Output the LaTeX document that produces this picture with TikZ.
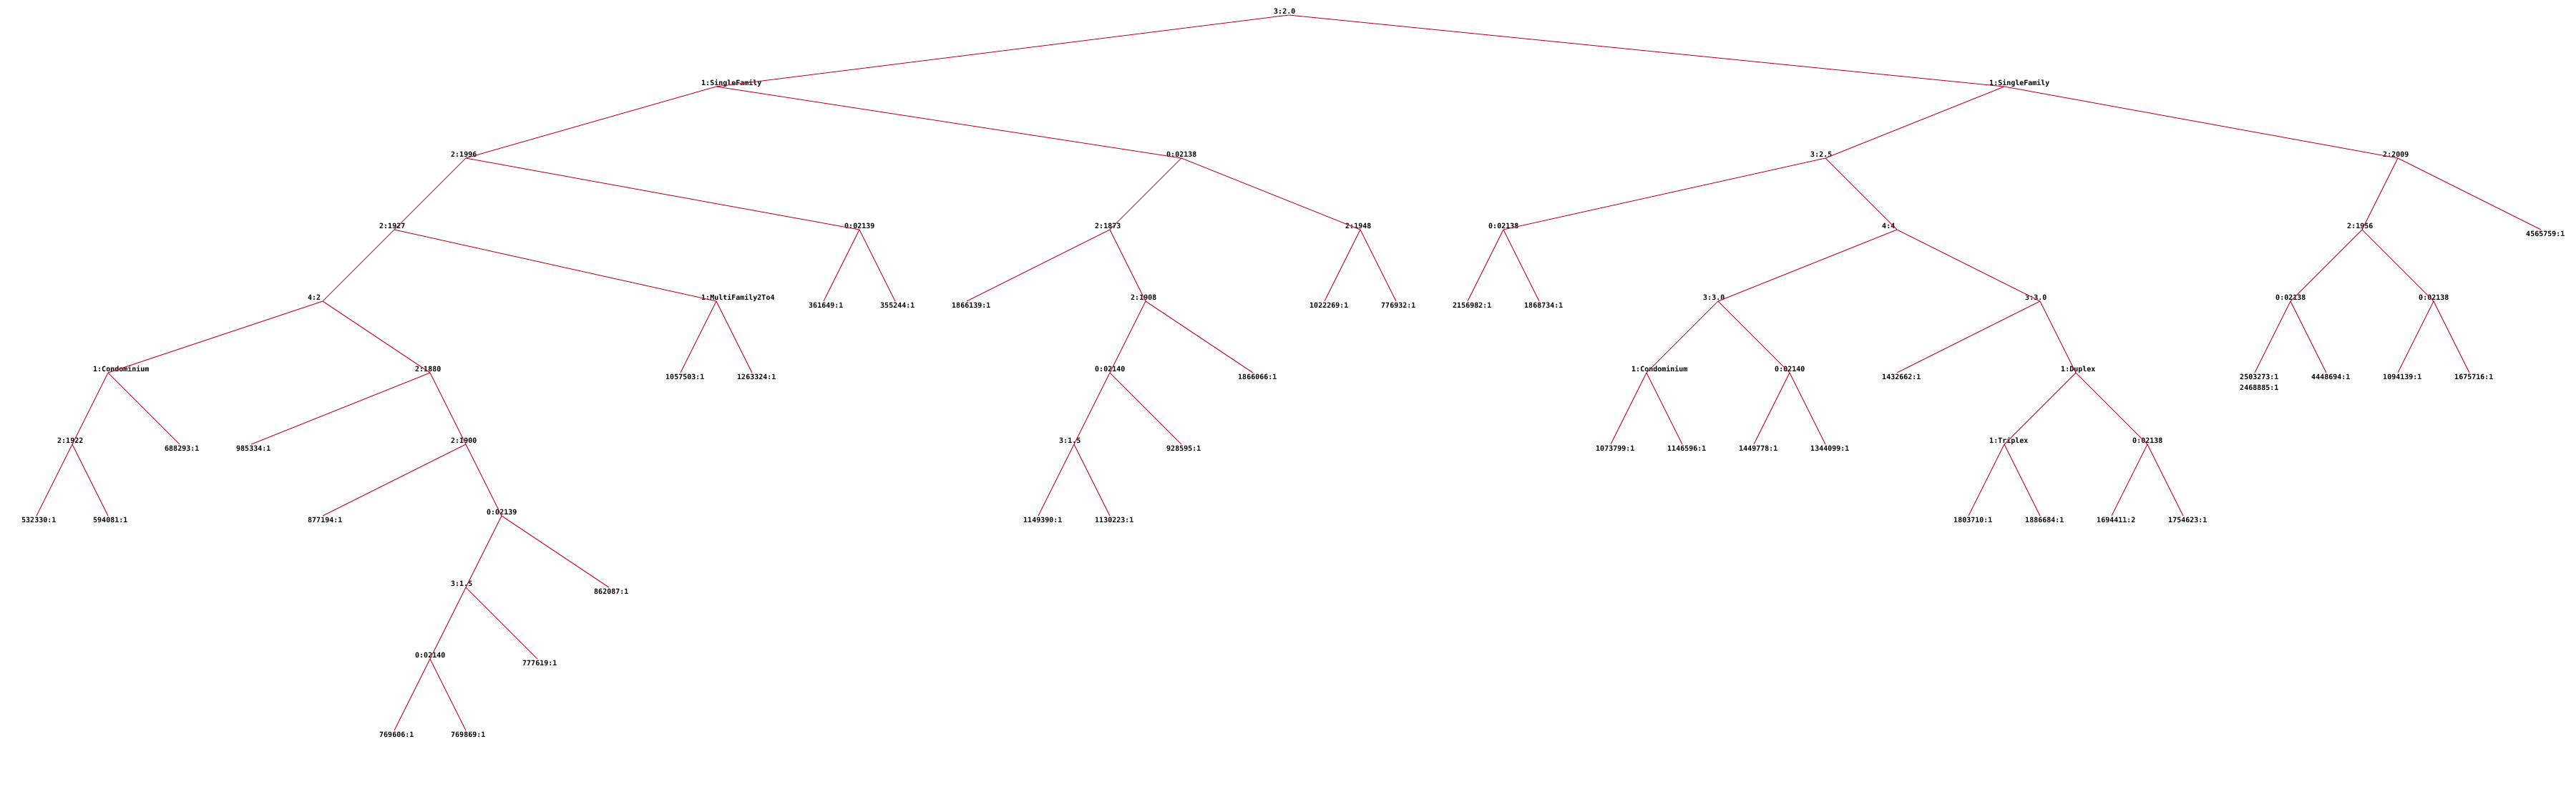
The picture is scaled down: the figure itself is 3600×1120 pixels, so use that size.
\documentclass[tikz,border=0pt]{standalone}
\usepackage{fontspec}
\setmonofont{DejaVu Sans Mono}
\definecolor{branch}{RGB}{200,12,42}
\tikzset{
x=1pt, y=-1pt, % one unit is one pixel, rows go downwards
every edge/.style={draw=branch, line width=1pt}, % the red branches
tag/.style={inner sep=0pt, font=\ttfamily\bfseries}, % the text of every node
splitnode/.style={inner sep=0pt, minimum size=0pt, label={[tag, anchor=base west, xshift=-21pt, yshift=1.5pt]above:#1}}, % a test, text sits above the point
leafnode/.style={inner sep=0pt, minimum size=0pt, label={[tag, anchor=base west, xshift=-21pt, yshift=-9.7pt]below:#1}}, % a leaf, text hangs below the point
}

\begin{document}
\begin{tikzpicture}
    \useasboundingbox (0,0) rectangle (3600,1120);
    % tests
    \node[splitnode=3:2.0] (q0) at (1801,21) {};
    \node[splitnode=1:SingleFamily] (q1) at (1001,121) {};
    \node[splitnode=2:1996] (q2) at (651,221) {};
    \node[splitnode=2:1927] (q3) at (551,321) {};
    \node[splitnode=4:2] (q4) at (451,421) {};
    \node[splitnode=1:Condominium] (q5) at (151,521) {};
    \node[splitnode=2:1922] (q6) at (101,621) {};
    \node[splitnode=2:1880] (q7) at (601,521) {};
    \node[splitnode=2:1900] (q8) at (651,621) {};
    \node[splitnode=0:02139] (q9) at (701,721) {};
    \node[splitnode=3:1.5] (q10) at (651,821) {};
    \node[splitnode=0:02140] (q11) at (601,921) {};
    \node[splitnode=1:MultiFamily2To4] (q12) at (1001,421) {};
    \node[splitnode=0:02139] (q13) at (1201,321) {};
    \node[splitnode=0:02138] (q14) at (1651,221) {};
    \node[splitnode=2:1873] (q15) at (1551,321) {};
    \node[splitnode=2:1908] (q16) at (1601,421) {};
    \node[splitnode=0:02140] (q17) at (1551,521) {};
    \node[splitnode=3:1.5] (q18) at (1501,621) {};
    \node[splitnode=2:1948] (q19) at (1901,321) {};
    \node[splitnode=1:SingleFamily] (q20) at (2801,121) {};
    \node[splitnode=3:2.5] (q21) at (2551,221) {};
    \node[splitnode=0:02138] (q22) at (2101,321) {};
    \node[splitnode=4:4] (q23) at (2651,321) {};
    \node[splitnode=3:3.0] (q24) at (2401,421) {};
    \node[splitnode=1:Condominium] (q25) at (2301,521) {};
    \node[splitnode=0:02140] (q26) at (2501,521) {};
    \node[splitnode=3:3.0] (q27) at (2851,421) {};
    \node[splitnode=1:Duplex] (q28) at (2901,521) {};
    \node[splitnode=1:Triplex] (q29) at (2801,621) {};
    \node[splitnode=0:02138] (q30) at (3001,621) {};
    \node[splitnode=2:2009] (q31) at (3351,221) {};
    \node[splitnode=2:1956] (q32) at (3301,321) {};
    \node[splitnode=0:02138] (q33) at (3201,421) {};
    \node[splitnode=0:02138] (q34) at (3401,421) {};
    % leaves
    \node[leafnode=532330:1] (l0) at (51,721) {};
    \node[leafnode=594081:1] (l1) at (151,721) {};
    \node[leafnode=688293:1] (l2) at (251,621) {};
    \node[leafnode=985334:1] (l3) at (351,621) {};
    \node[leafnode=877194:1] (l4) at (451,721) {};
    \node[leafnode=769606:1] (l5) at (551,1021) {};
    \node[leafnode=769869:1] (l6) at (651,1021) {};
    \node[leafnode=777619:1] (l7) at (751,921) {};
    \node[leafnode=862087:1] (l8) at (851,821) {};
    \node[leafnode=1057503:1] (l9) at (951,521) {};
    \node[leafnode=1263324:1] (l10) at (1051,521) {};
    \node[leafnode=361649:1] (l11) at (1151,421) {};
    \node[leafnode=355244:1] (l12) at (1251,421) {};
    \node[leafnode=1866139:1] (l13) at (1351,421) {};
    \node[leafnode=1149390:1] (l14) at (1451,721) {};
    \node[leafnode=1130223:1] (l15) at (1551,721) {};
    \node[leafnode=928595:1] (l16) at (1651,621) {};
    \node[leafnode=1866066:1] (l17) at (1751,521) {};
    \node[leafnode=1022269:1] (l18) at (1851,421) {};
    \node[leafnode=776932:1] (l19) at (1951,421) {};
    \node[leafnode=2156982:1] (l20) at (2051,421) {};
    \node[leafnode=1868734:1] (l21) at (2151,421) {};
    \node[leafnode=1073799:1] (l22) at (2251,621) {};
    \node[leafnode=1146596:1] (l23) at (2351,621) {};
    \node[leafnode=1449778:1] (l24) at (2451,621) {};
    \node[leafnode=1344099:1] (l25) at (2551,621) {};
    \node[leafnode=1432662:1] (l26) at (2651,521) {};
    \node[leafnode=1803710:1] (l27) at (2751,721) {};
    \node[leafnode=1886684:1] (l28) at (2851,721) {};
    \node[leafnode=1694411:2] (l29) at (2951,721) {};
    \node[leafnode=1754623:1] (l30) at (3051,721) {};
    \node[leafnode=2503273:1, label={[tag, anchor=base west, xshift=-21pt, yshift=-24.7pt]below:2468885:1}] (l31) at (3151,521) {};
    \node[leafnode=4448694:1] (l32) at (3251,521) {};
    \node[leafnode=1094139:1] (l33) at (3351,521) {};
    \node[leafnode=1675716:1] (l34) at (3451,521) {};
    \node[leafnode=4565759:1] (l35) at (3551,321) {};
    \draw
    (q0) edge (q1)
    (q0) edge (q20)
    (q1) edge (q2)
    (q1) edge (q14)
    (q2) edge (q3)
    (q2) edge (q13)
    (q3) edge (q4)
    (q3) edge (q12)
    (q4) edge (q5)
    (q4) edge (q7)
    (q5) edge (q6)
    (q5) edge (l2)
    (q6) edge (l0)
    (q6) edge (l1)
    (q7) edge (l3)
    (q7) edge (q8)
    (q8) edge (l4)
    (q8) edge (q9)
    (q9) edge (q10)
    (q9) edge (l8)
    (q10) edge (q11)
    (q10) edge (l7)
    (q11) edge (l5)
    (q11) edge (l6)
    (q12) edge (l9)
    (q12) edge (l10)
    (q13) edge (l11)
    (q13) edge (l12)
    (q14) edge (q15)
    (q14) edge (q19)
    (q15) edge (l13)
    (q15) edge (q16)
    (q16) edge (q17)
    (q16) edge (l17)
    (q17) edge (q18)
    (q17) edge (l16)
    (q18) edge (l14)
    (q18) edge (l15)
    (q19) edge (l18)
    (q19) edge (l19)
    (q20) edge (q21)
    (q20) edge (q31)
    (q21) edge (q22)
    (q21) edge (q23)
    (q22) edge (l20)
    (q22) edge (l21)
    (q23) edge (q24)
    (q23) edge (q27)
    (q24) edge (q25)
    (q24) edge (q26)
    (q25) edge (l22)
    (q25) edge (l23)
    (q26) edge (l24)
    (q26) edge (l25)
    (q27) edge (l26)
    (q27) edge (q28)
    (q28) edge (q29)
    (q28) edge (q30)
    (q29) edge (l27)
    (q29) edge (l28)
    (q30) edge (l29)
    (q30) edge (l30)
    (q31) edge (q32)
    (q31) edge (l35)
    (q32) edge (q33)
    (q32) edge (q34)
    (q33) edge (l31)
    (q33) edge (l32)
    (q34) edge (l33)
    (q34) edge (l34);
\end{tikzpicture}
\end{document}
